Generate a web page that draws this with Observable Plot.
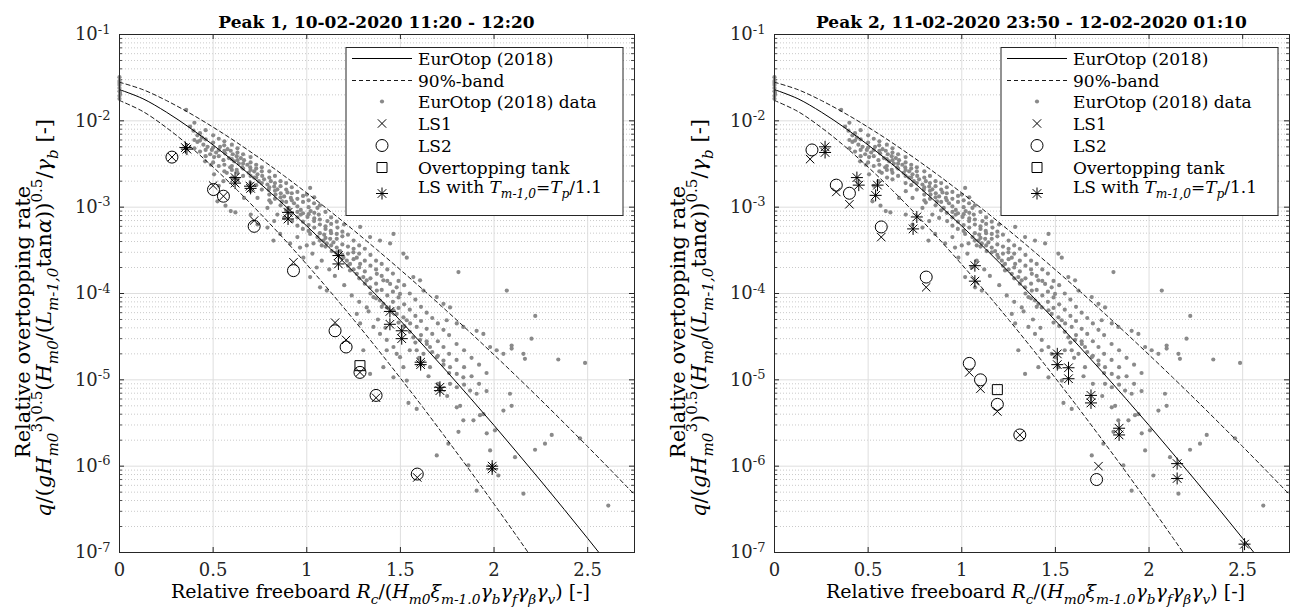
<!DOCTYPE html>
<html><head><meta charset="utf-8">
<script src="https://cdn.jsdelivr.net/npm/d3@7"></script>
<script src="https://cdn.jsdelivr.net/npm/@observablehq/plot@0.6"></script>
<style>
body{margin:0;background:#fff;}
#wrap{position:relative;width:1296px;height:610px;overflow:hidden;background:#fff;}
#wrap svg{position:absolute;top:0;}
#wrap svg text{font-family:"DejaVu Serif","Liberation Serif",serif;}
</style></head><body><div id="wrap"></div>
<script>
// ---------- data ----------
const xTicks = [0, 0.5, 1, 1.5, 2, 2.5];
const yDecades = [1e-7, 1e-6, 1e-5, 1e-4, 1e-3, 1e-2, 1e-1];

const curveX   = [0,0.125,0.25,0.375,0.5,0.625,0.75,0.875,1,1.125,1.25,1.375,1.5,1.625,1.75,1.875,2,2.125,2.25,2.375,2.5,2.625,2.75];
const eurotopQ = [0.023,0.01803,0.01262,8.32e-3,5.25e-3,3.19e-3,1.884e-3,1.081e-3,6.05e-4,3.32e-4,1.78e-4,9.38e-5,4.85e-5,2.47e-5,1.236e-5,6.10e-6,2.97e-6,1.42e-6,6.74e-7,3.15e-7,1.456e-7,6.65e-8,3.0e-8];
const upperQ   = [0.028,0.02297,0.0172,0.01227,8.44e-3,5.64e-3,3.67e-3,2.34e-3,1.461e-3,8.97e-4,5.41e-4,3.21e-4,1.88e-4,1.088e-4,6.21e-5,3.50e-5,1.95e-5,1.073e-5,5.85e-6,3.15e-6,1.685e-6,8.92e-7,4.68e-7];
const lowerQ   = [0.0172,0.01283,8.36e-3,5.07e-3,2.91e-3,1.604e-3,8.50e-4,4.36e-4,2.17e-4,1.054e-4,4.99e-5,2.31e-5,1.046e-5,4.65e-6,2.02e-6,8.66e-7,3.64e-7,1.506e-7,6.13e-8,2.5e-8,9.7e-9,3.5e-9,1.2e-9];

// EurOtop (2018) database points [relative freeboard, relative overtopping rate]
const eurotopData = [
[0,0.032],[0,0.029],[0,0.0275],[0,0.026],[0,0.024],[0,0.022],[0.003,0.021],[0,0.0195],[0,0.018],
[0.356,1.34e-2],[0.377,8.6e-3],[0.395,7.7e-3],[0.416,6.8e-3],[0.44,6.4e-3],[0.416,5.7e-3],[0.448,5.3e-3],[0.47,5.0e-3],[0.493,4.6e-3],[0.516,4.3e-3],[0.484,4.1e-3],[0.505,3.8e-3],[0.537,5.0e-3],[0.559,5.2e-3],[0.577,4.7e-3],[0.594,4.5e-3],[0.564,4.2e-3],[0.605,4.1e-3],[0.626,3.9e-3],[0.648,3.7e-3],[0.584,3.7e-3],[0.555,3.5e-3],[0.612,3.4e-3],[0.637,3.2e-3],[0.665,3.5e-3],[0.683,3.1e-3],[0.655,2.9e-3],[0.626,2.7e-3],[0.698,2.9e-3],[0.719,2.6e-3],[0.69,2.5e-3],[0.737,2.4e-3],[0.762,2.3e-3],[0.719,2.2e-3],[0.744,2.0e-3],[0.772,2.1e-3],[0.79,1.83e-3],[0.808,2.0e-3],[0.826,1.73e-3],[0.797,1.59e-3],[0.843,1.61e-3],[0.861,1.45e-3],[0.833,1.40e-3],[0.879,1.33e-3],[0.897,1.48e-3],[0.915,1.28e-3],[0.868,1.17e-3],[0.932,1.11e-3],[0.95,1.02e-3],[0.904,9.8e-4],[0.968,9.3e-4],[1.0,1.40e-3],[1.018,1.67e-3],[1.039,1.11e-3],[1.057,9.8e-4],[0.591,2.9e-3],[0.573,2.5e-3],[0.601,2.2e-3],[0.555,2.0e-3],[0.53,1.77e-3],[0.505,2.4e-3],[0.488,3.1e-3],[0.457,3.4e-3],[0.523,1.17e-3],[0.566,1.04e-3],[0.594,9.0e-4],[0.665,1.28e-3],[0.737,1.28e-3],[0.701,1.53e-3],[0.79,9.8e-4],[0.808,1.13e-3],[0.843,8.2e-4],[0.879,7.5e-4],[0.922,6.9e-4],[0.95,6.1e-4],[0.979,5.6e-4],[1.018,4.9e-4],[1.057,4.5e-4],[1.093,4.8e-4],[1.128,5.3e-4],[1.164,5.8e-4],[1.199,6.3e-4],[1.11,6.9e-4],[1.039,6.9e-4],[1.004,7.7e-4],[0.968,8.2e-4],[1.021,9.0e-4],[1.064,8.2e-4],[0.737,6.3e-4],[0.79,5.8e-4],[0.826,6.9e-4],[0.701,8.2e-4],[0.619,8.7e-4],
[1.036,3.8e-4],[1.089,4.1e-4],[1.107,3.8e-4],[1.125,4.3e-4],[1.142,3.9e-4],[1.16,3.4e-4],[1.08,3.6e-4],[1.133,3.1e-4],[1.178,3.1e-4],[1.196,2.6e-4],[1.214,2.4e-4],[1.231,2.2e-4],[1.249,3.0e-4],[1.267,2.6e-4],[1.285,2.2e-4],[1.231,1.85e-4],[1.267,1.69e-4],[1.302,1.55e-4],[1.32,1.42e-4],[1.338,1.18e-4],[1.374,1.08e-4],[1.356,9.1e-5],[1.391,8.3e-5],[1.409,7.6e-5],[1.427,6.9e-5],[1.463,6.4e-5],[1.48,5.8e-5],[1.516,5.3e-5],[1.534,4.9e-5],[1.552,4.5e-5],[1.587,4.1e-5],[1.569,3.1e-5],[1.605,2.9e-5],[1.641,2.6e-5],[1.658,2.4e-5],[1.587,2.2e-5],[1.623,2.0e-5],[1.694,1.83e-5],[1.73,1.67e-5],[1.658,1.40e-5],[1.765,1.40e-5],[1.801,1.17e-5],[1.836,1.07e-5],[1.765,9.0e-6],[1.801,8.2e-6],[1.872,7.5e-6],[1.907,6.9e-6],
[1.285,5.9e-4],[1.338,4.5e-4],[1.391,4.1e-4],[1.445,3.8e-4],[1.463,4.9e-4],[1.516,2.9e-4],[1.534,2.6e-4],[1.569,1.55e-4],[1.605,1.42e-4],[1.623,1.08e-4],[1.694,9.1e-5],[1.73,7.6e-5],[1.765,6.9e-5],[1.81,1.77e-4],[1.747,4.9e-5],[1.801,4.5e-5],[1.836,4.1e-5],[1.907,3.7e-5],[1.943,3.4e-5],[1.979,2.4e-5],[2.014,2.2e-5],[2.05,2.0e-5],[2.068,1.08e-4],[1.374,1.69e-4],[1.409,1.42e-4],[1.445,1.29e-4],[1.48,1.18e-4],[1.498,9.9e-5],[1.32,6.9e-5],[1.267,5.8e-5],[1.285,4.5e-5],[1.356,4.1e-5],[1.391,3.4e-5],[1.427,2.9e-5],[1.463,2.4e-5],[1.48,2.0e-5],[1.498,1.83e-5],[1.516,1.40e-5],[1.463,1.07e-5],[1.534,9.8e-6],[1.071,1.18e-4],[1.107,1.08e-4],[1.018,1.55e-4],[1.053,2.0e-4],[0.982,2.6e-4],[0.964,3.4e-4],[0.911,3.8e-4],[0.858,4.9e-4],[0.822,4.1e-4],[1.302,2.2e-5],[1.338,1.17e-5],[1.409,1.40e-5],[1.427,2.2e-5],
[2.094,2.5e-5],[2.094,2.3e-5],[2.157,2.0e-5],[2.165,1.75e-5],[2.343,1.72e-5],[2.486,1.57e-5],[1.801,4.8e-6],[1.836,3.4e-6],[1.89,3.4e-6],[1.81,2.5e-6],[1.961,2.4e-6],[2.005,2.6e-6],[1.925,3.9e-6],[1.943,4.0e-6],[2.05,4.4e-6],[2.085,6.9e-6],[2.094,5.0e-6],[2.219,1.55e-6],[2.272,1.82e-6],[2.308,2.3e-6],[2.459,2.1e-6],[2.112,1.27e-6],[2.157,4.8e-7],[2.61,3.5e-7],[1.979,1.52e-6],[1.863,1.02e-6],[1.907,5.2e-7],[2.023,7.8e-7],[1.756,1.82e-6],[1.694,1.33e-6],[1.587,4.6e-6],[1.543,5.4e-6],[1.819,5.0e-6],
[2.22,5.5e-5],[2.2,3.0e-5],
[0.40,9.5e-3],[0.40,6.0e-3],[0.40,4.8e-3],[0.43,7.2e-3],[0.43,5.9e-3],[0.43,4.4e-3],[0.46,7.8e-3],[0.46,6.1e-3],[0.46,4.6e-3],[0.46,3.9e-3],[0.50,6.8e-3],[0.50,5.6e-3],[0.50,4.9e-3],[0.50,3.3e-3],[0.53,6.2e-3],[0.53,4.6e-3],[0.53,3.9e-3],[0.53,3.0e-3],[0.56,5.8e-3],[0.56,4.5e-3],[0.56,3.1e-3],[0.56,2.6e-3],[0.60,5.3e-3],[0.60,3.6e-3],[0.60,3.0e-3],[0.60,2.7e-3],[0.63,4.8e-3],[0.63,4.3e-3],[0.63,3.5e-3],[0.63,2.5e-3],[0.63,2.1e-3],[0.66,4.1e-3],[0.66,3.2e-3],[0.66,2.8e-3],[0.66,2.3e-3],[0.70,3.8e-3],[0.70,3.3e-3],[0.70,2.7e-3],[0.70,2.3e-3],[0.70,1.9e-3],[0.73,3.1e-3],[0.73,2.8e-3],[0.73,2.2e-3],[0.73,1.8e-3],[0.76,2.9e-3],[0.76,2.6e-3],[0.76,1.9e-3],[0.76,1.6e-3],[0.80,2.6e-3],[0.80,2.2e-3],[0.80,1.7e-3],[0.80,1.4e-3],[0.80,1.2e-3],[0.83,2.3e-3],[0.83,1.9e-3],[0.83,1.55e-3],[0.83,1.25e-3],[0.86,2.0e-3],[0.86,1.75e-3],[0.86,1.3e-3],[0.86,1.05e-3],[0.89,1.9e-3],[0.89,1.6e-3],[0.89,1.15e-3],[0.89,9.2e-4],[0.92,1.7e-3],[0.92,1.45e-3],[0.92,1.2e-3],[0.92,8.6e-4],[0.95,1.5e-3],[0.95,1.25e-3],[0.95,8.8e-4],[0.95,7.6e-4],[0.98,1.35e-3],[0.98,1.15e-3],[0.98,8.5e-4],[0.98,6.8e-4],[1.01,1.2e-3],[1.01,1.0e-3],[1.01,8.3e-4],[1.01,6.2e-4],[1.01,5.3e-4],[1.04,1.3e-3],[1.04,8.6e-4],[1.04,7.4e-4],[1.04,5.8e-4],[1.07,1.05e-3],[1.07,7.2e-4],[1.07,6.3e-4],[1.07,5.0e-4],[1.07,4.1e-4],[1.10,8.8e-4],[1.10,6.0e-4],[1.10,5.6e-4],[1.10,4.4e-4],[1.10,3.5e-4],[1.13,7.6e-4],[1.13,6.4e-4],[1.13,5.0e-4],[1.13,3.6e-4],[1.16,6.8e-4],[1.16,4.9e-4],[1.16,4.3e-4],[1.16,3.0e-4],[1.19,5.2e-4],[1.19,4.6e-4],[1.19,3.7e-4],[1.19,2.8e-4],[1.22,4.8e-4],[1.22,3.5e-4],[1.22,2.9e-4],[1.22,2.1e-4],[1.25,4.1e-4],[1.25,3.3e-4],[1.25,2.5e-4],[1.25,1.9e-4],[1.28,3.6e-4],[1.28,2.9e-4],[1.28,2.0e-4],[1.28,1.5e-4],[1.31,3.3e-4],[1.31,2.4e-4],[1.31,1.8e-4],[1.31,1.3e-4],[1.34,2.8e-4],[1.34,2.1e-4],[1.34,1.5e-4],[1.34,1.0e-4],[1.37,2.4e-4],[1.37,1.9e-4],[1.37,1.3e-4],[1.37,8.8e-5],[1.40,2.2e-4],[1.40,1.6e-4],[1.40,1.1e-4],[1.40,7.0e-5],[1.43,1.9e-4],[1.43,1.4e-4],[1.43,9.5e-5],[1.46,1.7e-4],[1.46,1.05e-4],[1.46,8.0e-5],[1.49,1.4e-4],[1.49,9.0e-5],[1.49,6.8e-5],[1.49,4.6e-5],[1.52,1.25e-4],[1.52,7.5e-5],[1.52,4.2e-5],[1.55,1.0e-4],[1.55,6.5e-5],[1.55,3.6e-5],[1.58,8.5e-5],[1.58,5.5e-5],[1.58,2.7e-5],[1.61,7.0e-5],[1.61,4.8e-5],[1.61,3.3e-5],[1.64,6.0e-5],[1.64,3.9e-5],[1.64,2.8e-5],[1.67,5.2e-5],[1.67,3.4e-5],[1.67,2.1e-5],[1.70,4.5e-5],[1.70,2.8e-5],[1.70,1.9e-5],[1.73,3.8e-5],[1.73,2.4e-5],[1.73,1.5e-5],[1.76,3.3e-5],[1.76,2.0e-5],[1.76,1.2e-5],[1.80,2.6e-5],[1.80,1.7e-5],[1.84,2.2e-5],[1.84,1.4e-5],[1.84,8.8e-6],[1.88,1.8e-5],[1.88,1.1e-5],[1.92,1.5e-5],[1.92,9.0e-6],[1.96,1.2e-5],[1.96,7.4e-6],
[0.95,4.5e-4],[1.0,3.6e-4],[1.03,2.9e-4],[1.08,2.4e-4],[1.12,1.9e-4],[1.15,1.6e-4],[1.2,1.25e-4],[1.24,9.5e-5],[1.28,8.0e-5],[1.33,6.2e-5],[1.38,5.0e-5],[1.42,4.0e-5],[1.55,2.2e-5],[1.6,1.8e-5],[1.65,1.1e-5],[1.7,9.0e-6],[1.75,6.5e-6]
];

// Peak 1 measurements
const p1LS1  = [[0.28,3.8e-3],[0.50,1.78e-3],[0.555,1.34e-3],[0.719,7.0e-4],[0.929,2.3e-4],[1.151,4.6e-5],[1.21,2.9e-5],[1.284,1.22e-5],[1.37,6.2e-6],[1.59,7.4e-7]];
const p1LS2  = [[0.28,3.8e-3],[0.502,1.6e-3],[0.555,1.34e-3],[0.719,6.0e-4],[0.929,1.84e-4],[1.151,3.7e-5],[1.21,2.4e-5],[1.284,1.22e-5],[1.37,6.6e-6],[1.59,8.1e-7]];
const p1Tank = [[1.284,1.46e-5]];
const p1LST  = [[0.352,4.9e-3],[0.36,4.7e-3],[0.617,2.2e-3],[0.617,1.9e-3],[0.697,1.75e-3],[0.70,1.65e-3],[0.90,8.7e-4],[0.90,7.3e-4],[1.169,2.75e-4],[1.169,2.2e-4],[1.444,6.2e-5],[1.444,4.4e-5],[1.507,3.7e-5],[1.507,3.0e-5],[1.608,1.6e-5],[1.608,1.5e-5],[1.711,8.2e-6],[1.711,7.5e-6],[1.99,1.0e-6],[1.99,9.3e-7]];

// Peak 2 measurements
const p2LS1  = [[0.19,3.6e-3],[0.33,1.5e-3],[0.40,1.08e-3],[0.57,4.5e-4],[0.81,1.18e-4],[1.04,1.22e-5],[1.10,7.9e-6],[1.19,4.3e-6],[1.31,2.3e-6],[1.73,1.0e-6]];
const p2LS2  = [[0.20,4.6e-3],[0.33,1.8e-3],[0.40,1.45e-3],[0.57,5.9e-4],[0.81,1.55e-4],[1.04,1.55e-5],[1.10,1.0e-5],[1.19,5.2e-6],[1.31,2.3e-6],[1.72,7.0e-7]];
const p2Tank = [[1.19,7.7e-6]];
const p2LST  = [[0.27,5.0e-3],[0.27,4.3e-3],[0.44,2.2e-3],[0.45,1.8e-3],[0.55,1.8e-3],[0.54,1.37e-3],[0.76,7.7e-4],[0.74,5.6e-4],[1.07,2.1e-4],[1.07,1.39e-4],[1.51,2.0e-5],[1.51,1.5e-5],[1.57,1.38e-5],[1.57,1.03e-5],[1.69,6.6e-6],[1.69,5.4e-6],[1.84,2.75e-6],[1.84,2.3e-6],[2.15,1.07e-6],[2.15,7.2e-7],[2.51,1.25e-7]];

const titles = ["Peak 1, 10-02-2020 11:20 - 12:20", "Peak 2, 11-02-2020 23:50 - 12-02-2020 01:10"];
const legendLabels = ["EurOtop (2018)", "90%-band", "EurOtop (2018) data", "LS1", "LS2", "Overtopping tank"];

// ---------- helpers ----------
const INK = "#262626";
const FONT = '"DejaVu Serif", "Liberation Serif", serif';
const yMinor = [];
for (const d of yDecades.slice(0, -1)) for (let k = 2; k <= 9; k++) yMinor.push(d * k);

const symCross = {draw(c, s){ const r = Math.sqrt(s/Math.PI); c.moveTo(-r,-r); c.lineTo(r,r); c.moveTo(-r,r); c.lineTo(r,-r);} };
const symStar = {draw(c, s){ const r = Math.sqrt(s/Math.PI), d = r*0.72; c.moveTo(-r,0); c.lineTo(r,0); c.moveTo(0,-r); c.lineTo(0,r); c.moveTo(-d,-d); c.lineTo(d,d); c.moveTo(-d,d); c.lineTo(d,-d);} };
const symSquare = {draw(c, s){ const r = Math.sqrt(s/Math.PI); c.moveTo(-r,-r); c.lineTo(r,-r); c.lineTo(r,r); c.lineTo(-r,r); c.closePath();} };
const symCircle = {draw(c, s){ const r = Math.sqrt(s/Math.PI); c.moveTo(r,0); c.arc(0,0,r,0,2*Math.PI);} };

const curveRows = curveX.map((x, i) => ({x, mid: eurotopQ[i], up: upperQ[i], lo: lowerQ[i]}));

function rich(sel, parts, size) {
  let shift = 0;
  for (const [str, o = {}] of parts) {
    const ts = sel.append("tspan").text(str);
    const target = o.sub ? 0.32 : o.sup ? -0.42 : 0;
    const dy = (target - shift) * size;
    if (dy) ts.attr("dy", dy.toFixed(2));
    shift = target;
    if (o.sub || o.sup) ts.attr("font-size", (size*0.72).toFixed(1));
    if (o.i) ts.attr("font-style", "italic");
  }
}

const ylabel2 = [["q",{i:1}],["/(",{}],["g",{i:1}],["H",{i:1}],["m0",{i:1,sub:1}],["3",{sup:1}],[")",{}],["0.5",{sup:1}],["(",{}],["H",{i:1}],["m0",{i:1,sub:1}],["/(",{}],["L",{i:1}],["m-1,0",{i:1,sub:1}],["tan",{}],["α",{i:1}],["))",{}],["0.5",{sup:1}],["/",{}],["γ",{i:1}],["b",{i:1,sub:1}],[" [-]",{}]];
const xlabel = [["Relative freeboard ",{}],["R",{i:1}],["c",{i:1,sub:1}],["/(",{}],["H",{i:1}],["m0",{i:1,sub:1}],["ξ",{i:1}],["m-1.0",{i:1,sub:1}],["γ",{i:1}],["b",{i:1,sub:1}],["γ",{i:1}],["f",{i:1,sub:1}],["γ",{i:1}],["β",{i:1,sub:1}],["γ",{i:1}],["v",{i:1,sub:1}],[") [-]",{}]];
const lastLegend = [["LS with ",{}],["T",{i:1}],["m-1,0",{i:1,sub:1}],["=",{}],["T",{i:1}],["p",{i:1,sub:1}],["/1.1",{}]];

const W = 648, H = 610;

function makePanel(cfg) {
  const {ml, mr, mt, mb, left, title, ls1, ls2, tank, lst} = cfg;
  const fw = W - ml - mr, fh = H - mt - mb;
  const xy = {x: d => d[0], y: d => d[1]};
  const svg = Plot.plot({
    width: W, height: H, marginLeft: ml, marginRight: mr, marginTop: mt, marginBottom: mb,
    style: {fontFamily: FONT, fontSize: "18px", color: INK, background: "white", overflow: "visible"},
    x: {domain: [0, 2.75], ticks: xTicks, tickFormat: d => String(d), tickSize: 0, tickPadding: 11, label: null},
    y: {type: "log", domain: [1e-7, 1e-1], ticks: yDecades, tickFormat: d => "10^" + Math.round(Math.log10(d)), tickSize: 0, tickPadding: 9, label: null},
    marks: [
      Plot.ruleY(yMinor, {stroke: "#bdbdbd", strokeWidth: 0.8, strokeDasharray: "1 2"}),
      Plot.ruleY(yDecades.slice(1, -1), {stroke: "#dedede", strokeWidth: 1}),
      Plot.ruleX(xTicks.slice(1), {stroke: "#dedede", strokeWidth: 1}),
      Plot.ruleX(xTicks, {insetTop: fh - 5, stroke: INK}),
      Plot.ruleX(xTicks, {insetBottom: fh - 5, stroke: INK}),
      Plot.ruleY(yDecades, {insetRight: fw - 5, stroke: INK}),
      Plot.ruleY(yDecades, {insetLeft: fw - 5, stroke: INK}),
      Plot.ruleY(yMinor, {insetRight: fw - 3, stroke: INK, strokeWidth: 0.8}),
      Plot.ruleY(yMinor, {insetLeft: fw - 3, stroke: INK, strokeWidth: 0.8}),
      Plot.dot(eurotopData, {...xy, r: 2.1, fill: "#8a8a8a", stroke: "none"}),
      Plot.line(curveRows, {x: "x", y: "up", stroke: "black", strokeWidth: 0.9, strokeDasharray: "4 3", curve: "catmull-rom", clip: true}),
      Plot.line(curveRows, {x: "x", y: "lo", stroke: "black", strokeWidth: 0.9, strokeDasharray: "4 3", curve: "catmull-rom", clip: true}),
      Plot.line(curveRows, {x: "x", y: "mid", stroke: "black", strokeWidth: 1, curve: "catmull-rom", clip: true}),
      Plot.dot(ls1, {...xy, symbol: symCross, r: 4.2, stroke: "black", fill: "none", strokeWidth: 1}),
      Plot.dot(ls2, {...xy, symbol: symCircle, r: 6, stroke: "black", fill: "none", strokeWidth: 1}),
      Plot.dot(tank, {...xy, symbol: symSquare, r: 5, stroke: "black", fill: "none", strokeWidth: 1}),
      Plot.dot(lst, {...xy, symbol: symStar, r: 6, stroke: "black", fill: "none", strokeWidth: 1}),
      Plot.frame({stroke: INK, strokeWidth: 1})
    ]
  });
  svg.style.left = left + "px";
  const s = d3.select(svg);
  s.selectAll('g[aria-label="y-axis tick label"] text').each(function() {
    const t = d3.select(this), m = t.text().match(/^10\^(.*)$/);
    if (!m) return;
    t.text(null);
    t.append("tspan").text("10");
    t.append("tspan").attr("dy", "-0.5em").attr("font-size", "13").text(m[1]);
  });
  const txt = () => s.append("text").attr("text-anchor", "start").attr("fill", "black");
  txt().attr("x", ml + fw/2).attr("y", 28).attr("text-anchor", "middle")
    .attr("font-weight", "bold").attr("font-size", 17).text(title);
  const xl = txt().attr("x", ml + fw/2 + 4).attr("y", 598).attr("text-anchor", "middle").attr("font-size", 19);
  rich(xl, xlabel, 19);
  txt().attr("transform", `translate(${ml - 89},322) rotate(-90)`).attr("text-anchor", "middle").attr("font-size", 21).text("Relative overtopping rate");
  const yl2 = txt().attr("transform", `translate(${ml - 68},318) rotate(-90)`).attr("text-anchor", "middle").attr("font-size", 21);
  rich(yl2, ylabel2, 21);
  // legend
  const lx = ml + 227, ly = mt + 13.5;
  const g = s.append("g");
  g.append("rect").attr("x", lx).attr("y", ly).attr("width", 277).attr("height", 168).attr("fill", "white").attr("stroke", INK).attr("stroke-width", 1);
  const rowsY = [11, 33, 54, 76, 98, 120, 146];
  const mx = lx + 36;
  g.append("line").attr("x1", lx + 6).attr("x2", lx + 66).attr("y1", ly + rowsY[0]).attr("y2", ly + rowsY[0]).attr("stroke", "black").attr("stroke-width", 1);
  g.append("line").attr("x1", lx + 6).attr("x2", lx + 66).attr("y1", ly + rowsY[1]).attr("y2", ly + rowsY[1]).attr("stroke", "black").attr("stroke-width", 0.9).attr("stroke-dasharray", "4 3");
  g.append("circle").attr("cx", mx).attr("cy", ly + rowsY[2]).attr("r", 2.1).attr("fill", "#8a8a8a");
  const sym = (type, r, i) => g.append("path").attr("d", d3.symbol(type, Math.PI*r*r)()).attr("transform", `translate(${mx},${ly + rowsY[i]})`).attr("fill", "none").attr("stroke", "black").attr("stroke-width", 1);
  sym(symCross, 4.2, 3); sym(symCircle, 6, 4); sym(symSquare, 5, 5); sym(symStar, 6, 6);
  legendLabels.forEach((lab, i) => g.append("text").attr("text-anchor", "start").attr("x", lx + 72).attr("y", ly + rowsY[i] + 6).attr("font-size", 17).attr("fill", "black").text(lab));
  const lt = g.append("text").attr("text-anchor", "start").attr("x", lx + 72).attr("y", ly + rowsY[6] - 1).attr("font-size", 17).attr("fill", "black");
  rich(lt, lastLegend, 17);
  return svg;
}

const wrap = document.getElementById("wrap");
wrap.appendChild(makePanel({ml: 119, mr: 14, mt: 34, mb: 58, left: 0, title: titles[0], ls1: p1LS1, ls2: p1LS2, tank: p1Tank, lst: p1LST}));
wrap.appendChild(makePanel({ml: 126, mr: 7, mt: 34, mb: 58, left: 648, title: titles[1], ls1: p2LS1, ls2: p2LS2, tank: p2Tank, lst: p2LST}));
</script>
</body></html>
